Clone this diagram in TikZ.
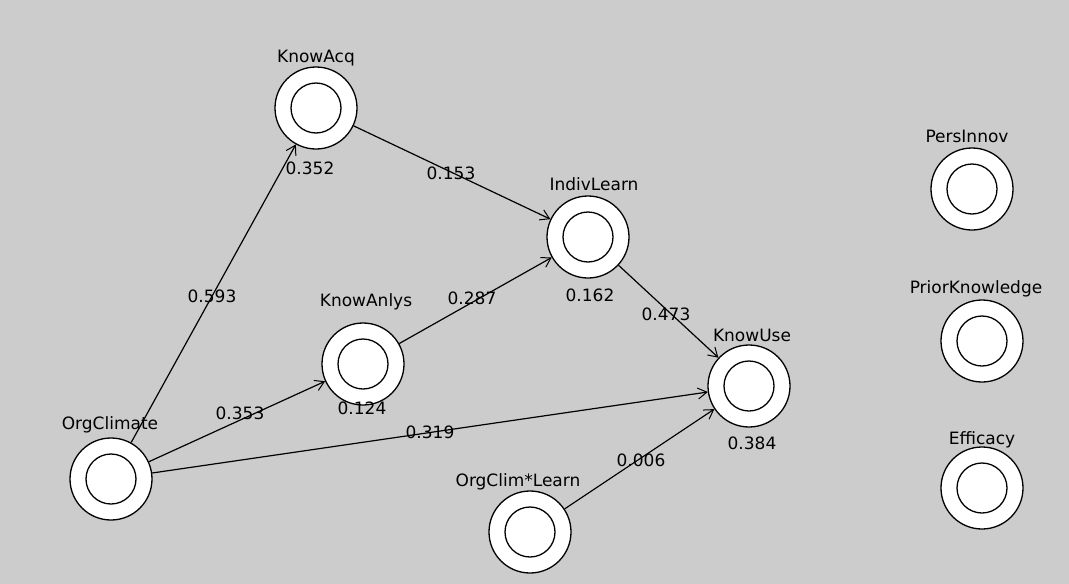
\documentclass[tikz,border=0pt]{standalone}
\usepackage{fontspec}
\setmainfont{DejaVu Sans}
\usetikzlibrary{arrows.meta}
\begin{document}
\begin{tikzpicture}[x=1pt,y=-1pt,
  lv/.style={circle, draw=black, fill=white, minimum size=82pt, inner sep=0pt, line width=1.3pt,
    path picture={\draw[line width=1.3pt] (path picture bounding box.center) circle (25pt);}},
  txt/.style={font=\fontsize{17}{19}\selectfont, inner sep=1pt},
  path/.style={line width=1.2pt, -{Straight Barb[length=9pt,width=11pt,line width=1pt]}}]
\fill[black!20] (0,0) rectangle (1069,584);
\useasboundingbox (0,0) rectangle (1069,584);
% nodes
\node[lv] (acq) at (316,108) {};
\node[lv] (ind) at (588,237) {};
\node[lv] (anl) at (363,364) {};
\node[lv] (use) at (749,386) {};
\node[lv] (org) at (111,479) {};
\node[lv] (ocl) at (530,532) {};
\node[lv] (per) at (972,189) {};
\node[lv] (pri) at (982,341) {};
\node[lv] (eff) at (982,488) {};
% names
\node[txt] (lacq) at (316,58) {KnowAcq};
\node[txt] (lind) at (594,184) {IndivLearn};
\node[txt] (lanl) at (366,302) {KnowAnlys};
\node[txt] (luse) at (752,335) {KnowUse};
\node[txt] (lorg) at (110,425) {OrgClimate};
\node[txt] (locl) at (518,482) {OrgClim*Learn};
\node[txt] (lper) at (967,136) {PersInnov};
\node[txt] (lpri) at (976,289) {PriorKnowledge};
\node[txt] (leff) at (982,440) {Efficacy};
% R2 values
\node[txt] (racq) at (310,168) {0.352};
\node[txt] (rind) at (590,295) {0.162};
\node[txt] (ranl) at (362,408) {0.124};
\node[txt] (ruse) at (752,443) {0.384};
% paths
\draw[path] (org) -- (acq);
\draw[path] (org) -- (anl);
\draw[path] (org) -- (use);
\draw[path] (acq) -- (ind);
\draw[path] (anl) -- (ind);
\draw[path] (ind) -- (use);
\draw[path] (ocl) -- (use);
% path coefficients
\node[txt] (pacqind) at (451,173) {0.153};
\node[txt] (porgacq) at (212,296) {0.593};
\node[txt] (panlind) at (472,298) {0.287};
\node[txt] (pinduse) at (666,314) {0.473};
\node[txt] (porganl) at (240,413) {0.353};
\node[txt] (porguse) at (430,432) {0.319};
\node[txt] (pocluse) at (641,460) {0.006};
\end{tikzpicture}
\end{document}
